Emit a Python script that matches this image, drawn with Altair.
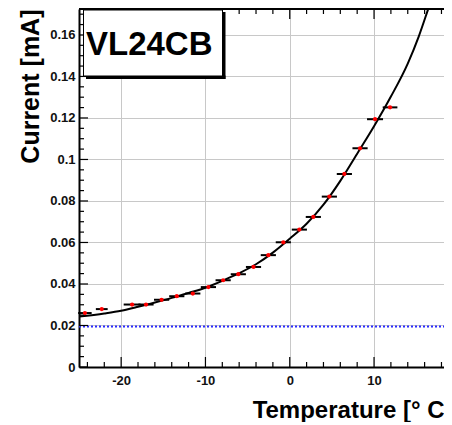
import altair as alt
import pandas as pd

# ---- data ----
temp = [-24.3, -22.3, -18.7, -17.05, -15.2, -13.4, -11.5, -9.65, -7.9, -6.1,
        -4.3, -2.54, -0.76, 1.14, 2.8, 4.7, 6.48, 8.34, 10.12, 11.9]
current = [0.0260, 0.0279, 0.0301, 0.0301, 0.0324, 0.0341, 0.0354, 0.0385, 0.0418, 0.0447,
           0.0482, 0.0539, 0.0601, 0.0662, 0.0723, 0.0821, 0.0930, 0.1054, 0.1194, 0.1251]
temp_err = [0.8, 0.7, 1.0, 0.9, 0.9, 0.9, 0.9, 0.9, 0.9, 0.9,
            0.9, 0.9, 0.9, 0.9, 0.9, 0.9, 0.9, 0.9, 0.95, 0.87]

fit_t = [-25, -22, -20, -18, -16, -14, -12, -10, -8, -6, -4, -2,
         0, 2, 4, 6, 8, 10, 12, 14, 15.3, 16.4, 16.8]
fit_i = [0.0243, 0.0258, 0.0271, 0.0290, 0.0311, 0.0333, 0.0357, 0.0382, 0.0415, 0.0452,
         0.0495, 0.0551, 0.0618, 0.0690, 0.0782, 0.0897, 0.1028, 0.1160, 0.1303, 0.1462,
         0.1592, 0.1722, 0.1770]

baseline_current = [0.0195]

x_major = [-20, -10, 0, 10]
x_minor = [-24, -22, -18, -16, -14, -12, -8, -6, -4, -2, 2, 4, 6, 8, 12, 14, 16, 18]
y_major = [0, 0.02, 0.04, 0.06, 0.08, 0.1, 0.12, 0.14, 0.16]
y_minor = [0.005, 0.01, 0.015, 0.025, 0.03, 0.035, 0.045, 0.05, 0.055, 0.065, 0.07, 0.075,
           0.085, 0.09, 0.095, 0.105, 0.11, 0.115, 0.125, 0.13, 0.135, 0.145, 0.15, 0.155,
           0.165, 0.17]

x_domain = [-25, 18.3]
y_domain = [0, 0.1725]

label_text = "VL24CB"
x_title = "Temperature [° C"
y_title = "Current [mA]"

# ---- layout ----
W, H = 365, 358
FONT = "Liberation Sans"

pts = pd.DataFrame({"t": temp, "i": current, "e": temp_err})
pts["lo"] = pts["t"] - pts["e"]
pts["hi"] = pts["t"] + pts["e"]
fit = pd.DataFrame({"t": fit_t, "i": fit_i})
one = pd.DataFrame({"k": [0]})

xs = alt.Scale(domain=x_domain, nice=False, zero=False)
ys = alt.Scale(domain=y_domain, nice=False, zero=False)

x_axis = alt.Axis(
    values=x_major, grid=True, gridColor="#c8c8c8", gridWidth=1, ticks=False,
    domain=True, domainColor="black", domainWidth=2,
    labelFont=FONT, labelFontWeight="bold", labelFontSize=13, labelColor="#111111",
    labelPadding=7, labelFlush=False, labelExpr="toString(datum.value)",
    title=x_title, titleFont=FONT, titleFontSize=24, titleFontWeight="bold",
    titleColor="black", titleAlign="right", titleAnchor="end", titleX=W, titleY=50,
    titleBaseline="alphabetic",
)
y_axis = alt.Axis(
    values=y_major, grid=True, gridColor="#c8c8c8", gridWidth=1, ticks=False,
    domain=True, domainColor="black", domainWidth=2,
    labelFont=FONT, labelFontWeight="bold", labelFontSize=13, labelColor="#111111",
    labelPadding=4, labelFlush=False, labelExpr="toString(datum.value)",
    title=y_title, titleFont=FONT, titleFontSize=25, titleFontWeight="bold",
    titleColor="black", titleAngle=270, titleAlign="right", titleBaseline="alphabetic",
    titleX=-41, titleY=0,
)

def X(field):
    return alt.X(field, scale=xs, axis=x_axis)

def Y(field):
    return alt.Y(field, scale=ys, axis=y_axis)

curve = alt.Chart(fit).mark_line(color="black", strokeWidth=2, interpolate="monotone", clip=True).encode(
    x=X("t:Q"), y=Y("i:Q"),
)

blue = alt.Chart(pd.DataFrame({"i": baseline_current})).mark_rule(
    color="#2a2aff", strokeWidth=2, strokeDash=[2, 2]
).encode(y=Y("i:Q"), x=alt.value(0), x2=alt.value(W))

errbars = alt.Chart(pts).mark_rule(color="black", strokeWidth=2).encode(
    x=X("lo:Q"), x2="hi:Q", y=Y("i:Q"),
)
dots = alt.Chart(pts).mark_circle(color="#ff0000", size=18, opacity=1).encode(
    x=X("t:Q"), y=Y("i:Q"),
)

def xticks(vals, length):
    d = pd.DataFrame({"t": vals})
    bot = alt.Chart(d).mark_rule(color="black", strokeWidth=1.2).encode(
        x=X("t:Q"), y=alt.value(H), y2=alt.value(H - length))
    top = alt.Chart(d).mark_rule(color="black", strokeWidth=1.2).encode(
        x=X("t:Q"), y=alt.value(0), y2=alt.value(length))
    return [bot, top]

def yticks(vals, length):
    d = pd.DataFrame({"i": vals})
    return [alt.Chart(d).mark_rule(color="black", strokeWidth=1.2).encode(
        y=Y("i:Q"), x=alt.value(0), x2=alt.value(length))]

tick_layers = xticks(x_major, 10) + xticks(x_minor, 5) + yticks(y_major, 9) + yticks(y_minor, 5)

top_frame = alt.Chart(one).mark_rule(color="black", strokeWidth=2).encode(
    x=alt.value(0), x2=alt.value(W), y=alt.value(0))

shadow_r = alt.Chart(one).mark_rect(color="black").encode(
    x=alt.value(143), x2=alt.value(146.5), y=alt.value(3), y2=alt.value(70))
shadow_b = alt.Chart(one).mark_rect(color="black").encode(
    x=alt.value(7), x2=alt.value(146.5), y=alt.value(66.5), y2=alt.value(70))
box = alt.Chart(one).mark_rect(fill="white", stroke="black", strokeWidth=1).encode(
    x=alt.value(4.5), x2=alt.value(143.5), y=alt.value(1), y2=alt.value(67))
box_text = alt.Chart(one).mark_text(
    text=label_text, font=FONT, fontSize=33, fontWeight="bold", color="black",
    align="left", baseline="alphabetic"
).encode(x=alt.value(7), y=alt.value(46))

chart = alt.layer(
    curve, blue, errbars, dots, *tick_layers, top_frame, shadow_r, shadow_b, box, box_text
).properties(
    width=W, height=H,
    autosize=alt.AutoSizeParams(type="none"),
    padding={"left": 71, "top": 1, "right": 0, "bottom": 55},
    background="white",
).configure_view(stroke=None)

chart.save("out.html", embed_options={"renderer": "svg", "actions": False})
